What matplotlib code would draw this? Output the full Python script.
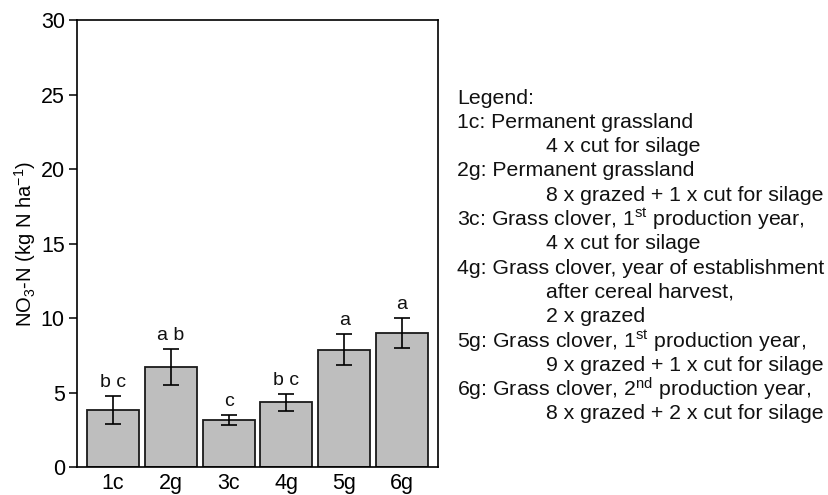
import matplotlib
matplotlib.use("Agg")
import matplotlib.pyplot as plt
import numpy as np

plt.rcParams['font.family'] = ['Liberation Sans', 'DejaVu Sans']
plt.rcParams['mathtext.fontset'] = 'custom'
plt.rcParams['mathtext.rm'] = 'Liberation Sans'
plt.rcParams['mathtext.it'] = 'Liberation Sans:italic'

# data
treatments = ['1c', '2g', '3c', '4g', '5g', '6g']
no3_mean = [3.85, 6.75, 3.15, 4.35, 7.9, 9.0]
no3_err = [0.93, 1.2, 0.33, 0.55, 1.05, 1.0]
letters = ['b c', 'a b', 'c', 'b c', 'a', 'a']

legend_lines = [
    ('Legend:', 0),
    ('1c: Permanent grassland', 0),
    ('4 x cut for silage', 1),
    ('2g: Permanent grassland', 0),
    ('8 x grazed + 1 x cut for silage', 1),
    ('3c: Grass clover, 1$^{\\mathrm{st}}$ production year,', 0),
    ('4 x cut for silage', 1),
    ('4g: Grass clover, year of establishment', 0),
    ('after cereal harvest,', 1),
    ('2 x grazed', 1),
    ('5g: Grass clover, 1$^{\\mathrm{st}}$ production year,', 0),
    ('9 x grazed + 1 x cut for silage', 1),
    ('6g: Grass clover, 2$^{\\mathrm{nd}}$ production year,', 0),
    ('8 x grazed + 2 x cut for silage', 1),
]

fig = plt.figure(figsize=(8.29, 4.95), dpi=100)
ax = fig.add_axes([0.0932, 0.056, 0.4348, 0.903])

x = np.arange(len(treatments))
ax.bar(x, no3_mean, width=0.9, color='#bebebe', edgecolor='#1a1a1a', linewidth=1.3,
       yerr=no3_err, error_kw=dict(ecolor='black', elinewidth=1.2, capsize=6, capthick=1.2))

for xi, m, e, lab in zip(x, no3_mean, no3_err, letters):
    ax.text(xi, m + e + 0.35, lab, ha='center', va='bottom', fontsize=14, color='#111111')

ax.set_xlim(-0.62, 5.62)
ax.set_ylim(0, 30)
ax.set_yticks(np.arange(0, 31, 5))
ax.set_xticks(x)
ax.set_xticklabels(treatments)
ax.tick_params(axis='x', length=0, labelsize=15.5, pad=4)
ax.tick_params(axis='y', direction='out', length=6, labelsize=15.5, width=1.1, pad=3)
for s in ax.spines.values():
    s.set_linewidth(1.2)
ax.set_ylabel('NO$_3$-N (kg N ha$^{\\mathrm{-1}}$)', fontsize=14.5, labelpad=2)

# legend text block on the right
x0, x1 = 457 / 829, 546 / 829
y_top = 1 - 98 / 495
dy = 24.3 / 495
for i, (txt, indent) in enumerate(legend_lines):
    fig.text(x1 if indent else x0, y_top - i * dy, txt, fontsize=15.3, va='center', ha='left',
             color='#111111')

fig.savefig('out.png', dpi=100)
